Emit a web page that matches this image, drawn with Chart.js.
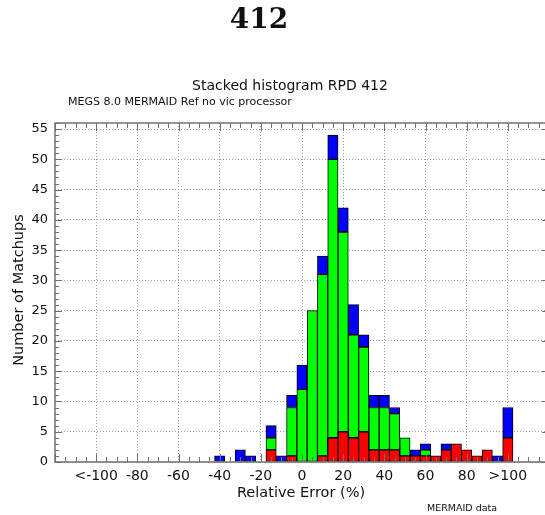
<!DOCTYPE html>
<html>
<head>
<meta charset="utf-8">
<script src="https://cdn.jsdelivr.net/npm/chart.js@4"></script>
<style>
  html, body { margin: 0; padding: 0; background: #fff; overflow: hidden; }
  #wrap { position: absolute; left: 0; top: 0; width: 560px; height: 515px; }
</style>
</head>
<body>
<div id="wrap"><canvas id="histChart"></canvas></div>
<script>
// bin centres (%) : first bin is "<-100", last bin is ">100"
const binCenters = [-100, -95, -90, -85, -80, -75, -70, -65, -60, -55,
                    -50, -45, -40, -35, -30, -25, -20, -15, -10, -5,
                    0, 5, 10, 15, 20, 25, 30, 35, 40, 45,
                    50, 55, 60, 65, 70, 75, 80, 85, 90, 95,
                    100];

// counts per bin, stacked bottom -> top : red, green, blue
const redCounts   = [0, 0, 0, 0, 0, 0, 0, 0, 0, 0,
                     0, 0, 0, 0, 0, 0, 0, 2, 0, 1,
                     0, 0, 1, 4, 5, 4, 5, 2, 2, 2,
                     1, 1, 1, 1, 2, 3, 2, 1, 2, 0,
                     4];
const greenCounts = [0, 0, 0, 0, 0, 0, 0, 0, 0, 0,
                     0, 0, 0, 0, 0, 0, 0, 2, 0, 8,
                     12, 25, 30, 46, 33, 17, 14, 7, 7, 6,
                     3, 0, 1, 0, 0, 0, 0, 0, 0, 0,
                     0];
const blueCounts  = [0, 0, 0, 0, 0, 0, 0, 0, 0, 0,
                     0, 0, 1, 0, 2, 1, 0, 2, 1, 2,
                     4, 0, 3, 4, 4, 5, 2, 2, 2, 1,
                     0, 1, 1, 0, 1, 0, 0, 0, 0, 1,
                     5];

const xTickValues = [-100, -80, -60, -40, -20, 0, 20, 40, 60, 80, 100];
const xTickLabels = ["<-100", "-80", "-60", "-40", "-20", "0", "20", "40", "60", "80", ">100"];

const SANS = '"DejaVu Sans", "Liberation Sans", sans-serif';

function toPoints(counts) {
  return binCenters.map((x, i) => ({ x: x, y: counts[i] > 0 ? counts[i] : null }));
}

// frame, minor ticks and the loose texts
const decorPlugin = {
  id: "decor",
  afterDraw(chart) {
    const ctx = chart.ctx;
    const a = chart.chartArea;
    const xs = chart.scales.x, ys = chart.scales.y;
    ctx.save();

    // axis box
    ctx.strokeStyle = "#707070";
    ctx.lineWidth = 1.5;
    ctx.strokeRect(a.left, a.top, a.right - a.left, a.bottom - a.top);

    // y ticks (every 1, longer every 5), left and right
    ctx.lineWidth = 1;
    for (let v = 0; v <= 56; v++) {
      const py = Math.round(ys.getPixelForValue(v)) + 0.5;
      const len = v % 5 === 0 ? 7 : 4;
      ctx.beginPath();
      ctx.moveTo(a.left, py); ctx.lineTo(a.left + len, py);
      ctx.moveTo(a.right, py); ctx.lineTo(a.right - len, py);
      ctx.stroke();
    }
    // x ticks (every 5, longer every 20), bottom and top
    for (let v = -120; v <= 120; v += 5) {
      const px = Math.round(xs.getPixelForValue(v)) + 0.5;
      const len = v % 20 === 0 ? 8 : 5;
      ctx.beginPath();
      ctx.moveTo(px, a.bottom); ctx.lineTo(px, a.bottom - len);
      ctx.moveTo(px, a.top); ctx.lineTo(px, a.top + len);
      ctx.stroke();
    }

    ctx.fillStyle = "#111";
    ctx.textAlign = "center";
    ctx.textBaseline = "alphabetic";
    ctx.font = 'bold 28px "DejaVu Serif", "Liberation Serif", serif';
    ctx.fillText("412", 259, 28);

    ctx.textBaseline = "middle";
    ctx.font = "14px " + SANS;
    ctx.fillText("Stacked histogram RPD 412", 290, 86);

    ctx.textAlign = "left";
    ctx.font = "11px " + SANS;
    ctx.fillText("MEGS 8.0 MERMAID Ref no vic processor", 68, 102);

    ctx.textAlign = "center";
    ctx.font = "14.5px " + SANS;
    ctx.fillText("Relative Error (%)", 301, 493);

    ctx.textAlign = "left";
    ctx.font = "9.5px " + SANS;
    ctx.fillText("MERMAID data", 427, 509);

    ctx.translate(19, 290);
    ctx.rotate(-Math.PI / 2);
    ctx.textAlign = "center";
    ctx.font = "14.5px " + SANS;
    ctx.fillText("Number of Matchups", 0, 0);
    ctx.restore();
  }
};

const barStyle = { borderColor: "#000", borderWidth: 1, borderSkipped: false,
                   barPercentage: 1.0, categoryPercentage: 1.0 };

new Chart(document.getElementById("histChart"), {
  type: "bar",
  data: {
    datasets: [
      Object.assign({ label: "red", data: toPoints(redCounts), backgroundColor: "#ff0000" }, barStyle),
      Object.assign({ label: "green", data: toPoints(greenCounts), backgroundColor: "#00ff00" }, barStyle),
      Object.assign({ label: "blue", data: toPoints(blueCounts), backgroundColor: "#0000ff" }, barStyle)
    ]
  },
  options: {
    responsive: true,
    maintainAspectRatio: false,
    animation: false,
    layout: { padding: { top: 123, left: 0, right: 11, bottom: 0 } },
    plugins: { legend: { display: false }, title: { display: false }, tooltip: { enabled: false } },
    scales: {
      x: {
        type: "linear",
        stacked: true,
        min: -120,
        max: 120,
        offset: false,
        afterFit(scale) { scale.height = 53; },
        afterBuildTicks(scale) {
          scale.ticks = xTickValues.map(v => ({ value: v }));
        },
        ticks: {
          autoSkip: false,
          maxRotation: 0,
          padding: 6,
          color: "#111",
          font: { family: SANS, size: 14 },
          callback: function (value) {
            const i = xTickValues.indexOf(value);
            return i >= 0 ? xTickLabels[i] : "";
          }
        },
        grid: { offset: false, drawTicks: false, color: "#a0a0a0", lineWidth: 1 },
        border: { display: false, dash: [1, 2] }
      },
      y: {
        stacked: true,
        min: 0,
        max: 56,
        afterFit(scale) { scale.width = 55; },
        ticks: {
          stepSize: 5,
          includeBounds: false,
          padding: 7,
          color: "#111",
          font: { family: SANS, size: 13 }
        },
        grid: { drawTicks: false, color: "#a0a0a0", lineWidth: 1 },
        border: { display: false, dash: [1, 2] }
      }
    }
  },
  plugins: [decorPlugin]
});
</script>
</body>
</html>
